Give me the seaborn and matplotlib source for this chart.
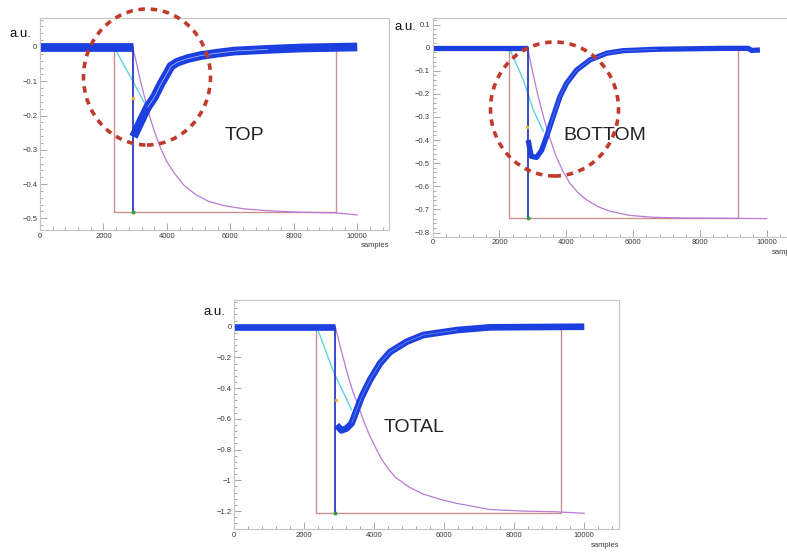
import matplotlib
matplotlib.use("Agg")
import matplotlib.pyplot as plt
from matplotlib.patches import Ellipse
from matplotlib.ticker import MultipleLocator, FuncFormatter
import pandas as pd
import seaborn as sns

sns.set_theme(style="white")
plt.rcParams["font.family"] = ["Liberation Sans", "DejaVu Sans"]

W, H, DPI = 787, 556, 100

# ---------------- TOP PMT ----------------
top_pulse_x = 2920
top_gate = [2330, 9330]
top_gate_level = -0.481
top_rec_x = [2947, 3179, 3389, 3600, 3811, 4021, 4126, 4337, 4653, 5074, 5600, 6126, 7179, 8232, 10000]
top_rec_y = [-0.262, -0.216, -0.176, -0.147, -0.108, -0.074, -0.056, -0.044, -0.034, -0.025,
             -0.018, -0.012, -0.007, -0.003, 0.0]
top_cyan_x = [2330, 2900, 3390]
top_cyan_y = [0.0, -0.095, -0.180]
top_int_x = [2920, 3050, 3180, 3320, 3450, 3600, 3800, 4000, 4250, 4550, 4900, 5300, 5800,
             6400, 7200, 8200, 9300, 10000]
top_int_y = [0.0, -0.050, -0.105, -0.155, -0.200, -0.245, -0.295, -0.335, -0.370, -0.405,
             -0.430, -0.450, -0.463, -0.472, -0.478, -0.482, -0.484, -0.490]
top_mark = [2920, -0.150]

# ---------------- BOTTOM PMT ----------------
bot_pulse_x = 2840
bot_gate = [2290, 9150]
bot_gate_level = -0.738
bot_rec_x = [2860, 2950, 3110, 3260, 3410, 3610, 3810, 4010, 4310, 4710, 5210, 5710, 6710,
             8700, 9450, 9550, 9800]
bot_rec_y = [-0.40, -0.47, -0.475, -0.445, -0.385, -0.298, -0.212, -0.154, -0.097, -0.053,
             -0.024, -0.013, -0.007, -0.003, -0.003, -0.012, -0.010]
bot_cyan_x = [2290, 2715, 3014, 3313]
bot_cyan_y = [0.0, -0.140, -0.270, -0.363]
bot_int_x = [2840, 3000, 3160, 3310, 3460, 3600, 3710, 3900, 4110, 4350, 4610, 4950, 5310,
             5910, 6600, 7500, 8500, 10000]
bot_int_y = [0.0, -0.110, -0.212, -0.295, -0.371, -0.430, -0.475, -0.535, -0.587, -0.627,
             -0.659, -0.688, -0.708, -0.726, -0.734, -0.737, -0.738, -0.740]
bot_mark = [2832, -0.342]

# ---------------- TOTAL ----------------
tot_pulse_x = 2886
tot_gate = [2330, 9333]
tot_gate_level = -1.215
tot_rec_x = [2926, 3060, 3211, 3354, 3497, 3640, 3877, 4163, 4449, 4924, 5400, 6352, 7305, 10000]
tot_rec_y = [-0.640, -0.675, -0.662, -0.629, -0.542, -0.456, -0.347, -0.239, -0.165, -0.098,
             -0.054, -0.022, -0.004, 0.0]
tot_cyan_x = [2354, 2829, 3354]
tot_cyan_y = [0.0, -0.290, -0.542]
tot_int_x = [2886, 3050, 3250, 3400, 3550, 3700, 3850, 4000, 4200, 4400, 4600, 5000, 5400,
             5900, 6350, 7300, 8200, 9200, 10000]
tot_int_y = [0.0, -0.150, -0.320, -0.430, -0.520, -0.615, -0.700, -0.770, -0.860, -0.925,
             -0.980, -1.045, -1.090, -1.125, -1.150, -1.190, -1.200, -1.205, -1.215]
tot_mark = [2897, -0.480]

BLUE = "#1c3fe0"
SPIKE = "#2a3cc0"
GATE = "#cf8f8f"
VIOLET = "#b77ad6"
CYAN = "#5fd3e3"


def px_rect(left, top, right, bottom):
    return [left / W, 1 - bottom / H, (right - left) / W, (bottom - top) / H]


def fmt(v, _):
    if abs(v) < 1e-9:
        return "0"
    return f"{v:g}".replace("-", "\u2212")


def draw_panel(ax, pulse_x, gate, level, rec_x, rec_y, cyan_x, cyan_y,
               int_x, int_y, mark, band_lw, fit_alpha, ylim, ymajor, yminor):
    # integration gate
    gate_df = pd.DataFrame({"x": [gate[0], gate[0], gate[1], gate[1]],
                            "y": [0, level, level, 0]})
    sns.lineplot(data=gate_df, x="x", y="y", sort=False, estimator=None,
                 color=GATE, lw=1.0, ax=ax)
    # integrated charge
    sns.lineplot(x=int_x, y=int_y, sort=False, estimator=None,
                 color=VIOLET, lw=0.9, ax=ax)
    # linear ramp
    sns.lineplot(x=cyan_x, y=cyan_y, sort=False, estimator=None,
                 color=CYAN, lw=1.0, ax=ax)
    # waveform: baseline and recovery
    wave = pd.DataFrame({
        "x": [0, pulse_x] + list(rec_x),
        "y": [0.0, 0.0] + list(rec_y),
        "seg": ["base", "base"] + ["rec"] * len(rec_x),
    })
    sns.lineplot(data=wave, x="x", y="y", units="seg", estimator=None,
                 sort=False, color=BLUE, lw=band_lw, ax=ax, legend=False,
                 solid_capstyle="butt", solid_joinstyle="round")
    # fitted tail
    fit_x = [x for x in rec_x if 3300 <= x <= 7200]
    fit_y = [y for x, y in zip(rec_x, rec_y) if 3300 <= x <= 7200]
    sns.lineplot(x=fit_x, y=fit_y, sort=False, estimator=None,
                 color="#dfefff", lw=0.5, alpha=fit_alpha, ax=ax)
    # pulse start
    sns.lineplot(x=[pulse_x, pulse_x], y=[0, level], sort=False, estimator=None,
                 color=SPIKE, lw=1.3, ax=ax)
    sns.scatterplot(x=[pulse_x], y=[level], color="#2e9e3a", s=8,
                    linewidth=0, ax=ax, zorder=5)
    sns.scatterplot(x=[mark[0]], y=[mark[1]], color="#f2b233", s=6,
                    linewidth=0, ax=ax, zorder=5)

    ax.set_xlim(0, 11000)
    ax.set_ylim(*ylim)
    ax.set_xlabel("")
    ax.set_ylabel("")
    ax.xaxis.set_major_locator(MultipleLocator(2000))
    ax.xaxis.set_minor_locator(MultipleLocator(400))
    ax.yaxis.set_major_locator(MultipleLocator(ymajor))
    ax.yaxis.set_minor_locator(MultipleLocator(yminor))
    ax.xaxis.set_major_formatter(FuncFormatter(fmt))
    ax.yaxis.set_major_formatter(FuncFormatter(fmt))
    ax.tick_params(which="both", direction="in", color="#9a9a9a", width=0.6,
                   labelsize=5.5, labelcolor="#3a3a3a", pad=2,
                   top=False, right=False, left=True, bottom=True)
    ax.tick_params(which="major", length=5)
    ax.tick_params(which="minor", length=2.5)
    for sp in ax.spines.values():
        sp.set_color("#c4c4c4")
        sp.set_linewidth(0.8)
    ax.set_facecolor("white")
    ax.text(1.0, -0.055, "samples", transform=ax.transAxes, ha="right",
            va="top", fontsize=5.5, color="#3a3a3a")


fig = plt.figure(figsize=(W / DPI, H / DPI), dpi=DPI)
fig.patch.set_facecolor("white")

ax_top = fig.add_axes(px_rect(40, 18, 389, 230))
draw_panel(ax_top, top_pulse_x, top_gate, top_gate_level, top_rec_x, top_rec_y,
           top_cyan_x, top_cyan_y, top_int_x, top_int_y, top_mark,
           6.3, 0.8, (-0.534, 0.0845), 0.1, 0.02)

ax_bot = fig.add_axes(px_rect(432.7, 18.3, 800, 236.7))
draw_panel(ax_bot, bot_pulse_x, bot_gate, bot_gate_level, bot_rec_x, bot_rec_y,
           bot_cyan_x, bot_cyan_y, bot_int_x, bot_int_y, bot_mark,
           3.8, 0.35, (-0.818, 0.127), 0.1, 0.02)

ax_tot = fig.add_axes(px_rect(234.3, 300, 619.3, 529))
draw_panel(ax_tot, tot_pulse_x, tot_gate, tot_gate_level, tot_rec_x, tot_rec_y,
           tot_cyan_x, tot_cyan_y, tot_int_x, tot_int_y, tot_mark,
           4.8, 0.45, (-1.317, 0.174), 0.2, 0.04)

# unit labels
for (x, y) in [(10, 37), (395, 30), (203, 315)]:
    fig.text(x / W, 1 - y / H, "a.u.", fontsize=9.5, color="#111111",
             ha="left", va="baseline")

# channel names
for (x, y, s) in [(244, 136, "TOP"), (605, 136, "BOTTOM"), (414, 427, "TOTAL")]:
    fig.text(x / W, 1 - y / H, s, fontsize=14, color="#222222",
             ha="center", va="center")

# highlighted regions
for (cx, cy, w, h) in [(147, 77, 127, 136), (554.5, 109, 128, 134)]:
    fig.add_artist(Ellipse((cx / W, 1 - cy / H), w / W, h / H,
                           transform=fig.transFigure, fill=False,
                           edgecolor="#c0392b", lw=2.6,
                           linestyle=(0, (1.8, 1.6)), zorder=10))

fig.savefig("out.png", dpi=DPI, facecolor="white")
